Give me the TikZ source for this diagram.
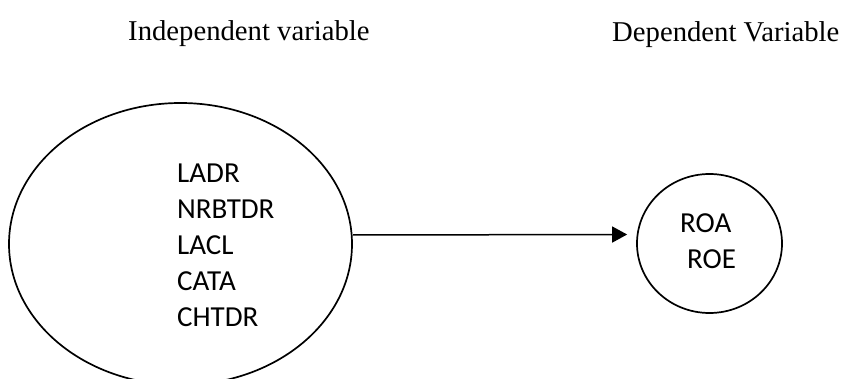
\documentclass[tikz,border=0pt]{standalone}
\usepackage{fontspec}
\setmainfont{Liberation Serif}
\newfontfamily\calfont{Carlito}
\usetikzlibrary{shapes.geometric,arrows.meta}
\begin{document}
\begin{tikzpicture}[x=1pt,y=-1pt,
  outline/.style={draw=black,line width=1.7pt,ellipse,inner sep=0pt},
  heading/.style={anchor=base west,inner sep=0pt,font=\fontsize{28.7}{34}\selectfont},
  listtext/.style={anchor=base west,inner sep=0pt,font=\calfont\fontsize{29}{36}\selectfont},
  conn/.style={line width=1.5pt,-{Triangle[length=15pt,width=16pt]}}]
\useasboundingbox (0,0) rectangle (847,379);
\node[outline,minimum width=343pt,minimum height=282pt] (E) at (180.5,244) {};
\node[outline,minimum width=145pt,minimum height=139pt] (C) at (709.5,243.5) {};
\node[heading] (h1) at (128,41) {Independent variable};
\node[heading] (h2) at (612,42) {Dependent Variable};
\node[listtext] (L) at (177,183) {\vtop{\baselineskip=36pt\hbox{LADR}\hbox{NRBTDR}\hbox{LACL}\hbox{CATA}\hbox{CHTDR}}};
\node[listtext] (R) at (680,233) {\vtop{\baselineskip=36pt\hbox{ROA}\hbox{\kern7pt ROE}}};
\draw[conn] ([yshift=9pt]E.east) -- ([xshift=-9pt,yshift=9pt]C.west);
\end{tikzpicture}
\end{document}
